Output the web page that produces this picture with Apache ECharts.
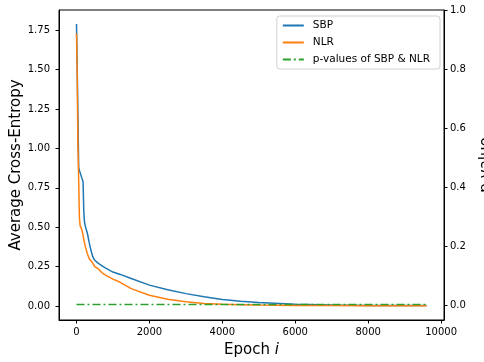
<!DOCTYPE html>
<html>
<head>
<meta charset="utf-8">
<script src="https://cdn.jsdelivr.net/npm/echarts@6/dist/echarts.min.js"></script>
<style>
  html, body { margin: 0; padding: 0; background: #fff; }
  #chart { width: 484px; height: 362px; }
</style>
</head>
<body>
<div id="chart"></div>
<script>
const epochs = [0, 20, 40, 60, 80, 100, 150, 180, 200, 220, 250, 300, 350, 400, 450, 500, 600, 700, 800,
  1000, 1200, 1500, 2000, 2500, 3000, 3500, 4000, 4500, 5000, 6000, 7000, 8000, 9000, 9600];

const sbp = [1.79, 1.50, 1.20, 0.88, 0.86, 0.85, 0.81, 0.79, 0.60, 0.53, 0.50, 0.46, 0.40, 0.35, 0.31, 0.29, 0.27, 0.255, 0.24,
  0.215, 0.20, 0.174, 0.132, 0.103, 0.078, 0.058, 0.040, 0.029, 0.021, 0.010, 0.005, 0.003, 0.002, 0.002];

const nlr = [1.73, 1.45, 1.00, 0.80, 0.56, 0.51, 0.48, 0.45, 0.42, 0.40, 0.37, 0.33, 0.30, 0.285, 0.27, 0.25, 0.235, 0.21, 0.195,
  0.17, 0.15, 0.11, 0.068, 0.042, 0.026, 0.016, 0.011, 0.008, 0.005, 0.003, 0.002, 0.001, 0.001, 0.001];

const pValues = [0.004, 0.004, 0.004, 0.004, 0.004, 0.004, 0.004, 0.004, 0.004, 0.004, 0.004, 0.004, 0.004, 0.004, 0.004, 0.004, 0.004, 0.004, 0.004,
  0.004, 0.004, 0.004, 0.004, 0.004, 0.004, 0.004, 0.004, 0.004, 0.004, 0.004, 0.004, 0.004, 0.004, 0.004];

const xTicks = [0, 2000, 4000, 6000, 8000, 10000];
const leftTicks = [0, 0.25, 0.5, 0.75, 1.0, 1.25, 1.5, 1.75];
const rightTicks = [0, 0.2, 0.4, 0.6, 0.8, 1.0];

const font = 'DejaVu Sans';
const pairs = (ys) => epochs.map((e, i) => [e, ys[i]]);

const chart = echarts.init(document.getElementById('chart'));

const tickStyle = { show: true, length: 3.5, lineStyle: { color: '#000', width: 1 } };
const labelStyle = { color: '#000', fontSize: 10, fontFamily: font };

chart.setOption({
  animation: false,
  grid: {
    left: 59, right: 40, top: 10, bottom: 42,
    containLabel: false, outerBoundsMode: 'none',
    show: true, borderColor: '#000', borderWidth: 1
  },
  legend: {
    orient: 'vertical',
    right: 44,
    top: 16,
    itemWidth: 21,
    itemHeight: 10,
    itemGap: 6,
    padding: [4, 10, 4, 5],
    borderColor: '#d0d0d0',
    borderWidth: 1,
    borderRadius: 3,
    backgroundColor: 'rgba(255,255,255,0.8)',
    itemStyle: { opacity: 0 },
    textStyle: { fontSize: 10.5, fontFamily: font, color: '#000', padding: [0, 0, 0, 4] },
    data: ['SBP', 'NLR', 'p-values of SBP & NLR']
  },
  xAxis: {
    type: 'value',
    min: -480,
    max: 10080,
    name: 'Epoch {i|i}',
    nameLocation: 'middle',
    nameGap: 23,
    nameMoveOverlap: false,
    nameTextStyle: { fontSize: 15, fontFamily: font, color: '#000', rich: { i: { fontSize: 15, fontStyle: 'italic', fontFamily: font } } },
    axisLine: { show: true, onZero: false, lineStyle: { color: '#000' } },
    axisTick: Object.assign({ customValues: xTicks }, tickStyle),
    axisLabel: Object.assign({ customValues: xTicks, margin: 7, formatter: v => String(v) }, labelStyle),
    splitLine: { show: false }
  },
  yAxis: [
    {
      type: 'value',
      position: 'left',
      min: -0.0895,
      max: 1.8795,
      name: 'Average Cross-Entropy',
      nameLocation: 'middle',
      nameGap: 35,
      nameRotate: 90,
      nameMoveOverlap: false,
      nameTextStyle: { fontSize: 15, fontFamily: font, color: '#000' },
      axisLine: { show: true, onZero: false, lineStyle: { color: '#000' } },
      axisTick: Object.assign({ customValues: leftTicks }, tickStyle),
      axisLabel: Object.assign({ customValues: leftTicks, margin: 9, formatter: v => v.toFixed(2) }, labelStyle),
      splitLine: { show: false }
    },
    {
      type: 'value',
      position: 'right',
      min: -0.0483,
      max: 1.0,
      name: 'p-value',
      nameLocation: 'middle',
      nameGap: 50,
      nameRotate: 90,
      nameMoveOverlap: false,
      nameTextStyle: { fontSize: 15, fontFamily: font, color: '#000', verticalAlign: 'bottom' },
      axisLine: { show: true, onZero: false, lineStyle: { color: '#000' } },
      axisTick: Object.assign({ customValues: rightTicks }, tickStyle),
      axisLabel: Object.assign({ customValues: rightTicks, margin: 6, formatter: v => v.toFixed(1) }, labelStyle),
      splitLine: { show: false }
    }
  ],
  series: [
    {
      name: 'SBP', type: 'line', data: pairs(sbp), yAxisIndex: 0,
      symbol: 'none', smooth: false, color: '#1f77b4', lineStyle: { color: '#1f77b4', width: 1.5 }
    },
    {
      name: 'NLR', type: 'line', data: pairs(nlr), yAxisIndex: 0,
      symbol: 'none', smooth: false, color: '#ff7f0e', lineStyle: { color: '#ff7f0e', width: 1.5 }
    },
    {
      name: 'p-values of SBP & NLR', type: 'line', data: pairs(pValues), yAxisIndex: 1,
      symbol: 'none', color: '#2ca02c', lineStyle: { color: '#2ca02c', width: 1.5, type: [8, 3, 2, 3] }
    }
  ]
});

window.addEventListener('resize', function () {
  chart.resize();
});
</script>
</body>
</html>
